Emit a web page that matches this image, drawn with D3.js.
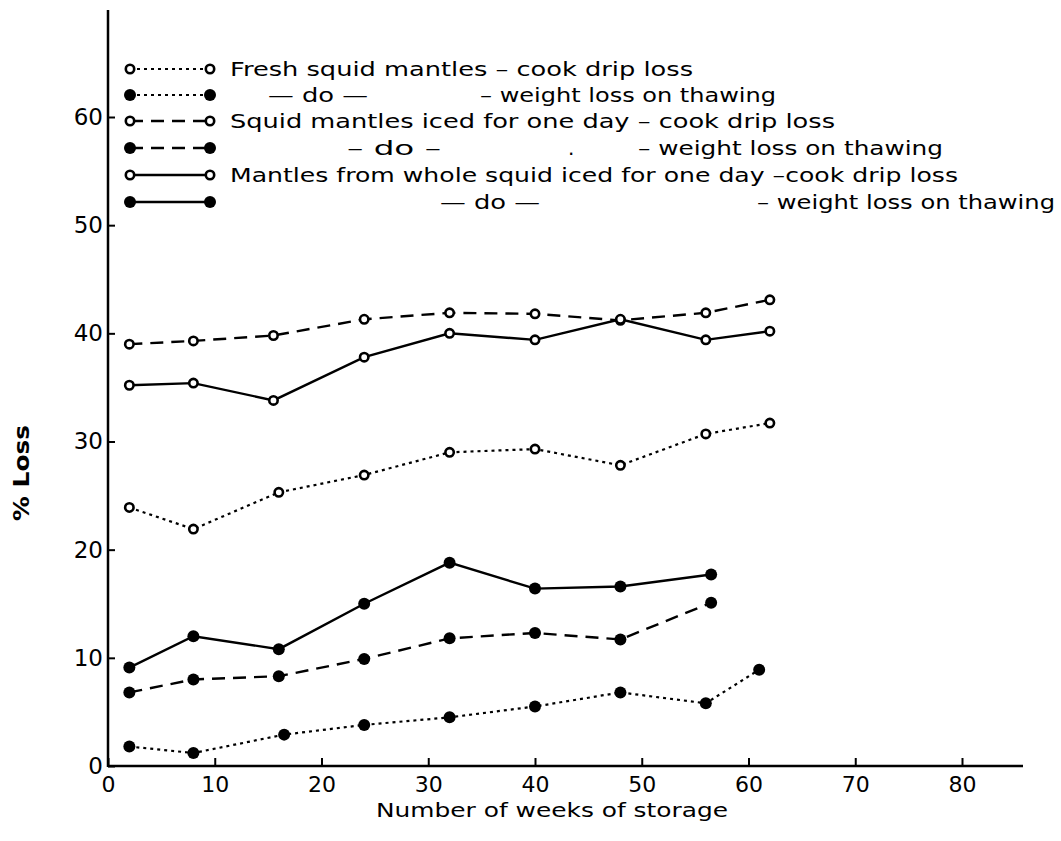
<!DOCTYPE html>
<html>
<head>
<meta charset="utf-8">
<script src="https://cdn.jsdelivr.net/npm/d3@7"></script>
<style>
  html, body { margin: 0; padding: 0; background: #ffffff; }
  svg { display: block; }
</style>
</head>
<body>
<div id="chart"></div>
<script>
/* Values (weeks of storage vs % loss) */
const xTicks = [0, 10, 20, 30, 40, 50, 60, 70, 80];
const yTicks = [0, 10, 20, 30, 40, 50, 60];

const freshCookWeeks = [2, 8, 16, 24, 32, 40, 48, 56, 62];
const freshCook = [23.9, 21.9, 25.3, 26.9, 29.0, 29.3, 27.8, 30.7, 31.7];

const freshThawWeeks = [2, 8, 16.5, 24, 32, 40, 48, 56, 61];
const freshThaw = [1.8, 1.2, 2.9, 3.8, 4.5, 5.5, 6.8, 5.8, 8.9];

const icedCookWeeks = [2, 8, 15.5, 24, 32, 40, 48, 56, 62];
const icedCook = [39.0, 39.3, 39.8, 41.3, 41.9, 41.8, 41.2, 41.9, 43.1];

const icedThawWeeks = [2, 8, 16, 24, 32, 40, 48, 56.5];
const icedThaw = [6.8, 8.0, 8.3, 9.9, 11.8, 12.3, 11.7, 15.1];

const wholeCookWeeks = [2, 8, 15.5, 24, 32, 40, 48, 56, 62];
const wholeCook = [35.2, 35.4, 33.8, 37.8, 40.0, 39.4, 41.3, 39.4, 40.2];

const wholeThawWeeks = [2, 8, 16, 24, 32, 40, 48, 56.5];
const wholeThaw = [9.1, 12.0, 10.8, 15.0, 18.8, 16.4, 16.6, 17.7];

const width = 1061;
const height = 841;
const font = "'DejaVu Sans', sans-serif";
const ink = "#000000";

const dotted = "3,4";
const dashed = "13,8";

const series = [
  { weeks: freshCookWeeks, values: freshCook, dash: dotted, filled: false },
  { weeks: freshThawWeeks, values: freshThaw, dash: dotted, filled: true },
  { weeks: icedCookWeeks, values: icedCook, dash: dashed, filled: false },
  { weeks: icedThawWeeks, values: icedThaw, dash: dashed, filled: true },
  { weeks: wholeCookWeeks, values: wholeCook, dash: null, filled: false },
  { weeks: wholeThawWeeks, values: wholeThaw, dash: null, filled: true }
];

const svg = d3.select("#chart")
  .append("svg")
  .attr("width", width)
  .attr("height", height)
  .attr("viewBox", `0 0 ${width} ${height}`);

const x = d3.scaleLinear()
  .domain([0, 80])
  .range([108, 962]);

const y = d3.scaleLinear()
  .domain([0, 60])
  .range([766, 117]);

// axis lines drawn by hand so they run past the last tick, as in the figure
svg.append("line")
  .attr("x1", 108).attr("x2", 1023)
  .attr("y1", 766).attr("y2", 766)
  .attr("stroke", ink)
  .attr("stroke-width", 2.5);

svg.append("line")
  .attr("x1", 108).attr("x2", 108)
  .attr("y1", 10).attr("y2", 767)
  .attr("stroke", ink)
  .attr("stroke-width", 2.5);

const xAxis = d3.axisBottom(x)
  .tickValues(xTicks)
  .tickSize(-8)
  .tickPadding(10)
  .tickFormat(d3.format("d"));

const gx = svg.append("g")
  .attr("transform", "translate(0,766)")
  .call(xAxis);

gx.select(".domain").remove();
gx.selectAll(".tick line")
  .attr("stroke", ink)
  .attr("stroke-width", 2);
gx.selectAll(".tick text")
  .attr("font-family", font)
  .attr("font-size", 22)
  .attr("fill", ink);

const yAxis = d3.axisLeft(y)
  .tickValues(yTicks)
  .tickSize(-7)
  .tickPadding(5)
  .tickFormat(d3.format("d"));

const gy = svg.append("g")
  .attr("transform", "translate(108,0)")
  .call(yAxis);

gy.select(".domain").remove();
gy.selectAll(".tick line")
  .attr("stroke", ink)
  .attr("stroke-width", 2);
gy.selectAll(".tick text")
  .attr("font-family", font)
  .attr("font-size", 23)
  .attr("fill", ink);

// axis titles
svg.append("text")
  .attr("x", 552)
  .attr("y", 817)
  .attr("text-anchor", "middle")
  .attr("font-family", font)
  .attr("font-size", 20)
  .attr("textLength", 352)
  .attr("lengthAdjust", "spacingAndGlyphs")
  .attr("fill", ink)
  .text("Number of weeks of storage");

svg.append("text")
  .attr("transform", "translate(29,473) rotate(-90)")
  .attr("text-anchor", "middle")
  .attr("font-family", font)
  .attr("font-size", 21)
  .attr("font-weight", "bold")
  .attr("textLength", 96)
  .attr("lengthAdjust", "spacingAndGlyphs")
  .attr("fill", ink)
  .text("% Loss");

// series
const line = d3.line()
  .x(d => x(d[0]))
  .y(d => y(d[1]));

series.forEach(s => {
  const pts = s.weeks.map((w, i) => [w, s.values[i]]);

  svg.append("path")
    .datum(pts)
    .attr("fill", "none")
    .attr("stroke", ink)
    .attr("stroke-width", s.dash === dotted ? 2.2 : 2.4)
    .attr("stroke-dasharray", s.dash)
    .attr("d", line);

  svg.append("g")
    .selectAll("circle")
    .data(pts)
    .join("circle")
      .attr("cx", d => x(d[0]))
      .attr("cy", d => y(d[1]))
      .attr("r", s.filled ? 6 : 4.2)
      .attr("fill", s.filled ? ink : "#ffffff")
      .attr("stroke", ink)
      .attr("stroke-width", s.filled ? 0 : 2.6);
});

// legend
const legendRows = [69, 95, 121, 148, 175, 202];

const legendText = [
  [{ t: "Fresh squid mantles \u2013 cook drip loss", x: 230, w: 463 }],
  [{ t: "\u2014 do \u2014", x: 268, w: 100 }, { t: "\u2013 weight loss on thawing", x: 480, w: 296 }],
  [{ t: "Squid mantles iced for one day \u2013 cook drip loss", x: 230, w: 605 }],
  [{ t: "\u2013 do \u2013", x: 347, w: 94 }, { t: ".", x: 568, w: 0 }, { t: "\u2013 weight loss on thawing", x: 638, w: 305 }],
  [{ t: "Mantles from whole squid iced for one day \u2013cook drip loss", x: 230, w: 728 }],
  [{ t: "\u2014 do \u2014", x: 440, w: 100 }, { t: "\u2013 weight loss on thawing", x: 757, w: 298 }]
];

series.forEach((s, i) => {
  const ly = legendRows[i];
  const g = svg.append("g");

  g.append("line")
    .attr("x1", 130).attr("x2", 210)
    .attr("y1", ly).attr("y2", ly)
    .attr("stroke", ink)
    .attr("stroke-width", s.dash === dotted ? 2.2 : 2.4)
    .attr("stroke-dasharray", s.dash);

  g.selectAll("circle")
    .data([130, 210])
    .join("circle")
      .attr("cx", d => d)
      .attr("cy", ly)
      .attr("r", s.filled ? 6 : 4.2)
      .attr("fill", s.filled ? ink : "#ffffff")
      .attr("stroke", ink)
      .attr("stroke-width", s.filled ? 0 : 2.6);

  legendText[i].forEach(seg => {
    const txt = g.append("text")
      .attr("x", seg.x)
      .attr("y", ly + 7)
      .attr("font-family", font)
      .attr("font-size", 20)
      .attr("fill", ink)
      .text(seg.t);
    if (seg.w > 0) {
      txt.attr("textLength", seg.w)
        .attr("lengthAdjust", "spacingAndGlyphs");
    }
  });
});
</script>
</body>
</html>
